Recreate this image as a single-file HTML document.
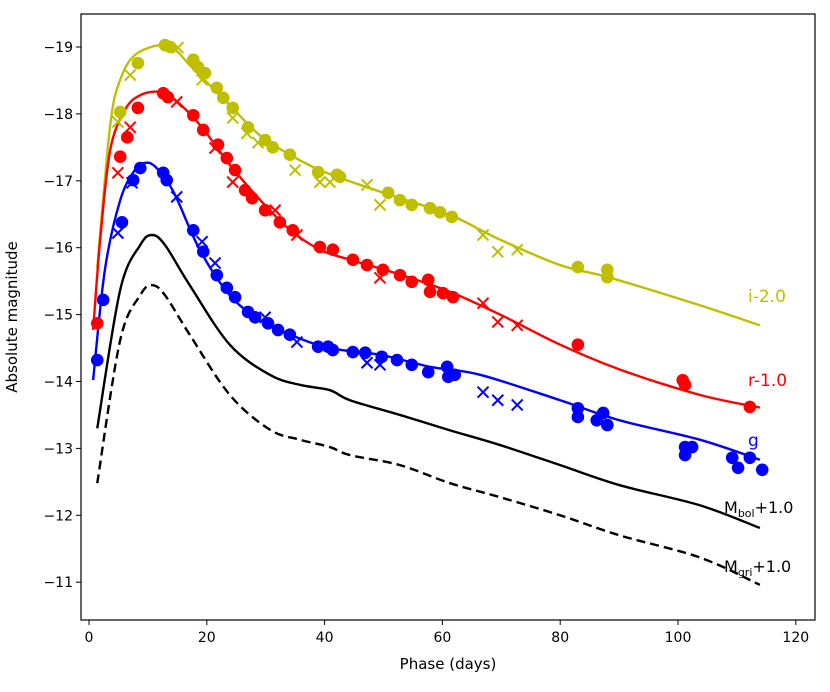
<!DOCTYPE html>
<html><head><meta charset="utf-8"><style>
body{margin:0;background:#fff}
svg{display:block;font-family:"DejaVu Sans","Liberation Sans",sans-serif}
</style></head><body>
<svg id="chart" width="830" height="692">
<rect x="81" y="14" width="734" height="606" fill="#fff" stroke="#000" stroke-width="1.2"/>
<g id="marks"></g>
<g id="axes"></g>
<text x="448" y="669" font-size="15" text-anchor="middle">Phase (days)</text>
<text transform="translate(17,317) rotate(-90)" font-size="15" text-anchor="middle">Absolute magnitude</text>
<text x="748" y="302" font-size="17" fill="#bfbf00">i-2.0</text>
<text x="748" y="386" font-size="17" fill="#ff0000">r-1.0</text>
<text x="748" y="446" font-size="17" fill="#0000ff">g</text>
<text x="724" y="513" font-size="16" fill="#000">M<tspan font-size="11" dy="4">bol</tspan><tspan dy="-4">+1.0</tspan></text>
<text x="724" y="572" font-size="16" fill="#000">M<tspan font-size="11" dy="4">gri</tspan><tspan dy="-4">+1.0</tspan></text>
</svg>
<script>
const xTicks=[0,20,40,60,80,100,120];
const yTicks=[-19,-18,-17,-16,-15,-14,-13,-12,-11];
// model curves [phase, mag]
const iCurve=[[1.4,-15.70],[3.6,-17.83],[5.3,-18.51],[7.8,-18.88],[12.1,-19.03],[14.6,-18.96],[17.1,-18.73],[20.5,-18.43],[23.9,-18.13],[29.0,-17.68],[34.1,-17.39],[39.2,-17.16],[46.0,-16.94],[52.8,-16.74],[61.3,-16.49],[69.8,-16.12],[80.0,-15.74],[88.5,-15.55],[103.7,-15.14],[113.9,-14.84]];
const rCurve=[[0.7,-14.77],[1.9,-16.12],[3.6,-17.46],[6.1,-18.06],[8.7,-18.28],[12.1,-18.33],[14.6,-18.21],[18.8,-17.84],[23.9,-17.24],[29.0,-16.72],[34.1,-16.27],[39.2,-15.97],[44.3,-15.82],[52.8,-15.60],[61.3,-15.34],[69.8,-15.00],[80.0,-14.55],[90.1,-14.18],[103.7,-13.80],[113.9,-13.61]];
const gCurve=[[0.7,-14.02],[2.7,-15.67],[5.3,-16.71],[7.8,-17.16],[10.0,-17.27],[12.1,-17.13],[14.6,-16.79],[18.8,-15.97],[23.9,-15.29],[29.0,-14.92],[34.1,-14.70],[40.9,-14.50],[49.4,-14.40],[57.9,-14.22],[66.4,-14.10],[80.0,-13.72],[90.1,-13.42],[103.7,-13.13],[113.9,-12.83]];
const bolCurve=[[1.4,-13.30],[5.3,-15.37],[8.7,-16.04],[10.7,-16.19],[12.9,-16.04],[17.1,-15.44],[23.9,-14.55],[30.7,-14.10],[35.8,-13.95],[40.9,-13.87],[44.3,-13.72],[52.8,-13.50],[61.3,-13.27],[69.8,-13.05],[80.0,-12.75],[90.1,-12.45],[103.7,-12.15],[113.9,-11.81]];
const griCurve=[[1.4,-12.48],[5.3,-14.62],[8.7,-15.29],[10.7,-15.44],[12.9,-15.29],[17.1,-14.70],[23.9,-13.80],[30.7,-13.28],[35.8,-13.13],[40.9,-13.02],[44.3,-12.90],[52.8,-12.75],[61.3,-12.48],[69.8,-12.27],[80.0,-12.00],[90.1,-11.70],[103.7,-11.37],[113.9,-10.96]];
// observed points
const iDots=[[5.3,-18.03],[8.3,-18.76],[12.9,-19.03],[13.8,-19.00],[17.7,-18.81],[18.5,-18.70],[19.7,-18.61],[21.7,-18.39],[22.8,-18.24],[24.4,-18.09],[27.0,-17.80],[29.9,-17.61],[31.2,-17.50],[34.1,-17.39],[38.9,-17.13],[42.1,-17.09],[42.6,-17.06],[50.8,-16.82],[52.8,-16.71],[54.8,-16.64],[57.9,-16.59],[59.6,-16.53],[61.6,-16.46],[83.0,-15.71],[88.0,-15.67],[88.0,-15.56]];
const iCross=[[4.9,-17.88],[7.0,-18.58],[15.1,-18.99],[19.2,-18.51],[24.4,-17.94],[26.8,-17.71],[28.7,-17.57],[35.0,-17.16],[39.2,-16.98],[40.9,-16.98],[47.2,-16.94],[49.4,-16.64],[66.9,-16.19],[69.4,-15.94],[72.7,-15.97]];
const rDots=[[1.4,-14.87],[5.3,-17.36],[6.5,-17.65],[8.3,-18.09],[12.6,-18.31],[13.4,-18.25],[17.7,-17.98],[19.4,-17.76],[21.9,-17.54],[23.4,-17.34],[24.8,-17.16],[26.5,-16.86],[27.7,-16.74],[29.9,-16.56],[32.4,-16.38],[34.6,-16.26],[39.2,-16.01],[41.4,-15.97],[44.8,-15.82],[47.2,-15.74],[49.9,-15.67],[52.8,-15.59],[54.8,-15.49],[57.6,-15.52],[57.9,-15.34],[60.1,-15.32],[61.8,-15.26],[83.0,-14.55],[100.8,-14.02],[101.2,-13.95],[112.2,-13.62]];
const rCross=[[4.9,-17.12],[7.0,-17.80],[14.9,-18.18],[21.4,-17.49],[24.4,-16.98],[31.6,-16.56],[35.3,-16.19],[49.4,-15.55],[66.9,-15.17],[69.4,-14.89],[72.7,-14.84]];
const gDots=[[1.4,-14.32],[2.4,-15.22],[5.6,-16.38],[7.5,-17.01],[8.7,-17.19],[12.6,-17.12],[13.2,-17.01],[17.7,-16.26],[19.4,-15.94],[21.7,-15.59],[23.4,-15.40],[24.8,-15.26],[27.0,-15.04],[28.2,-14.96],[30.4,-14.87],[32.1,-14.77],[34.1,-14.70],[38.9,-14.52],[40.6,-14.52],[41.4,-14.47],[44.8,-14.44],[46.9,-14.43],[49.7,-14.37],[52.3,-14.32],[54.8,-14.25],[57.6,-14.14],[60.8,-14.22],[61.0,-14.07],[62.1,-14.10],[83.0,-13.60],[83.0,-13.47],[86.2,-13.42],[87.3,-13.53],[88.0,-13.35],[101.2,-13.02],[101.2,-12.90],[102.4,-13.02],[109.2,-12.86],[110.2,-12.71],[112.2,-12.86],[114.3,-12.68]];
const gCross=[[4.9,-16.22],[7.3,-16.97],[14.9,-16.76],[19.2,-16.09],[21.4,-15.77],[29.9,-14.96],[35.3,-14.59],[47.2,-14.28],[49.4,-14.25],[66.9,-13.84],[69.4,-13.72],[72.7,-13.65]];

const X=t=>89+t*5.89;
const Y=m=>47+(m+19)*66.9;
const NS='http://www.w3.org/2000/svg';
const marks=document.getElementById('marks'), axes=document.getElementById('axes');
function mk(tag,attrs,parent){const e=document.createElementNS(NS,tag);for(const k in attrs)e.setAttribute(k,attrs[k]);parent.appendChild(e);return e;}
function pathFor(pts){
  const p=pts.map(d=>[X(d[0]),Y(d[1])]);
  let s='M'+p[0][0]+','+p[0][1];
  for(let i=0;i<p.length-1;i++){
    const p0=p[i-1]||p[i],p1=p[i],p2=p[i+1],p3=p[i+2]||p2;
    const c1=[p1[0]+(p2[0]-p0[0])/6,p1[1]+(p2[1]-p0[1])/6];
    const c2=[p2[0]-(p3[0]-p1[0])/6,p2[1]-(p3[1]-p1[1])/6];
    s+=' C'+c1+' '+c2+' '+p2;
  }
  return s;
}
function curve(pts,color,name,dash){
  const e=mk('path',{d:pathFor(pts),fill:'none',stroke:color,'stroke-width':2.4},marks);
  if(dash)e.setAttribute('stroke-dasharray','9,5');
  
  
}
function dots(pts,color,name){
  pts.forEach(d=>{
    const c=mk('circle',{cx:X(d[0]),cy:Y(d[1]),r:6.3,fill:color},marks);
    
    
  });
}
function crosses(pts,color,name){
  pts.forEach(d=>{
    const x=X(d[0]),y=Y(d[1]),s=5.5;
    const c=mk('path',{d:`M${x-s},${y-s}L${x+s},${y+s}M${x-s},${y+s}L${x+s},${y-s}`,stroke:color,'stroke-width':2,fill:'none'},marks);
    
    
  });
}
curve(griCurve,'#000','mgri-curve',true);
curve(bolCurve,'#000','mbol-curve',false);
curve(iCurve,'#bfbf00','i-band-curve');
curve(rCurve,'#ff0000','r-band-curve');
curve(gCurve,'#0000ff','g-band-curve');
dots(iDots,'#bfbf00','i-band-point');crosses(iCross,'#bfbf00','i-band-cross');
dots(rDots,'#ff0000','r-band-point');crosses(rCross,'#ff0000','r-band-cross');
dots(gDots,'#0000ff','g-band-point');crosses(gCross,'#0000ff','g-band-cross');
xTicks.forEach(t=>{
  const x=X(t);
  const l=mk('line',{x1:x,x2:x,y1:620,y2:625,stroke:'#000','stroke-width':1},axes);
  
  
  const tx=mk('text',{x:x,y:642,'font-size':14,'text-anchor':'middle'},axes);
  tx.textContent=t;
  
  
});
yTicks.forEach(m=>{
  const y=Y(m);
  const l=mk('line',{x1:76,x2:81,y1:y,y2:y,stroke:'#000','stroke-width':1},axes);
  
  
  const tx=mk('text',{x:73,y:y+5,'font-size':14,'text-anchor':'end'},axes);
  tx.textContent='\u2212'+Math.abs(m);
  
  
});
</script>
</body></html>
